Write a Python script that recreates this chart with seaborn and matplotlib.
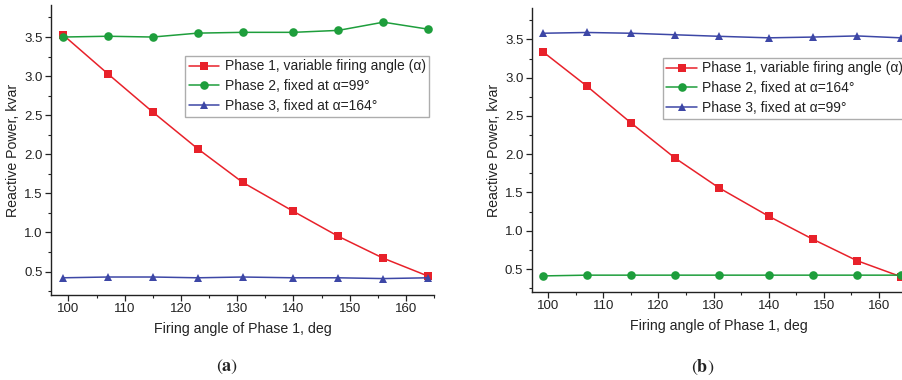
import matplotlib
matplotlib.use("Agg")
import matplotlib.pyplot as plt
from matplotlib.ticker import MultipleLocator
import seaborn as sns
import pandas as pd

# Firing angle of phase 1 (deg)
angles = [99, 107, 115, 123, 131, 140, 148, 156, 164]

# (a) phase 2 fixed at 99 deg, phase 3 fixed at 164 deg
a_phase1 = [3.53, 3.03, 2.54, 2.07, 1.64, 1.27, 0.95, 0.67, 0.44]
a_phase2 = [3.50, 3.51, 3.50, 3.55, 3.56, 3.56, 3.585, 3.69, 3.60]
a_phase3 = [0.42, 0.43, 0.43, 0.42, 0.43, 0.42, 0.42, 0.41, 0.42]

# (b) phase 2 fixed at 164 deg, phase 3 fixed at 99 deg
b_phase1 = [3.34, 2.89, 2.41, 1.95, 1.56, 1.19, 0.89, 0.61, 0.40]
b_phase2 = [0.41, 0.42, 0.42, 0.42, 0.42, 0.42, 0.42, 0.42, 0.42]
b_phase3 = [3.58, 3.59, 3.58, 3.56, 3.54, 3.52, 3.53, 3.545, 3.52]

labels_a = ["Phase 1, variable firing angle (α)",
            "Phase 2, fixed at α=99°",
            "Phase 3, fixed at α=164°"]
labels_b = ["Phase 1, variable firing angle (α)",
            "Phase 2, fixed at α=164°",
            "Phase 3, fixed at α=99°"]

sns.set_theme(style="ticks")
plt.rcParams["font.family"] = ["Liberation Sans", "DejaVu Sans"]
plt.rcParams["mathtext.fontset"] = "stix"

colors = ["#E8212A", "#1E9E3C", "#3D47A6"]
markers = ["s", "o", "^"]
msizes = [5.8, 6.2, 6.2]

fig = plt.figure(figsize=(9.03, 3.80), dpi=100)
ax_a = fig.add_axes([0.0565, 0.2237, 0.4241, 0.7632])
ax_b = fig.add_axes([0.5888, 0.2316, 0.4150, 0.7474])

panels = [
    (ax_a, [a_phase1, a_phase2, a_phase3], labels_a, (96.9, 165.0)),
    (ax_b, [b_phase1, b_phase2, b_phase3], labels_b, (97.0, 165.0)),
]

for ax, series, labels, xlim in panels:
    for vals, lab, c, m, ms in zip(series, labels, colors, markers, msizes):
        df = pd.DataFrame({"angle": angles, "q": vals})
        sns.lineplot(data=df, x="angle", y="q", ax=ax, color=c, marker=m,
                     markersize=ms, markeredgewidth=0, linewidth=1.1,
                     label=lab, clip_on=False if ax is ax_a else True)
    ax.set_xlim(*xlim)
    ax.set_ylim(0.20, 3.91)
    ax.xaxis.set_major_locator(MultipleLocator(10))
    ax.xaxis.set_minor_locator(MultipleLocator(5))
    ax.yaxis.set_major_locator(MultipleLocator(0.5))
    ax.yaxis.set_minor_locator(MultipleLocator(0.25))
    ax.tick_params(which="major", direction="out", length=4, width=0.9,
                   labelsize=9.5, colors="#222222", pad=2)
    ax.tick_params(which="minor", direction="out", length=2.5, width=0.8,
                   colors="#222222")
    for s in ("top", "right"):
        ax.spines[s].set_visible(False)
    for s in ("left", "bottom"):
        ax.spines[s].set_linewidth(1.0)
        ax.spines[s].set_color("#222222")
    ax.set_xlabel("Firing angle of Phase 1, deg", fontsize=10.2,
                  color="#222222", labelpad=5)
    ax.set_ylabel("Reactive Power, kvar", fontsize=10.2, color="#222222",
                  labelpad=3)
    leg = ax.legend(loc="upper left", bbox_to_anchor=(0.35, 0.824),
                    borderaxespad=0, fontsize=10, frameon=True,
                    fancybox=False, handlelength=2.2, handletextpad=0.4,
                    labelspacing=0.42, borderpad=0.25)
    leg.get_frame().set_edgecolor("#999999")
    leg.get_frame().set_linewidth(1.0)
    for t in leg.get_texts():
        t.set_color("#222222")

fig.text(0.251, 0.034, r"$(\mathbf{a})$", ha="center", va="center",
         fontsize=13, color="#222222")
fig.text(0.778, 0.034, r"$(\mathbf{b})$", ha="center", va="center",
         fontsize=13, color="#222222")

fig.savefig("out.png", dpi=100)
